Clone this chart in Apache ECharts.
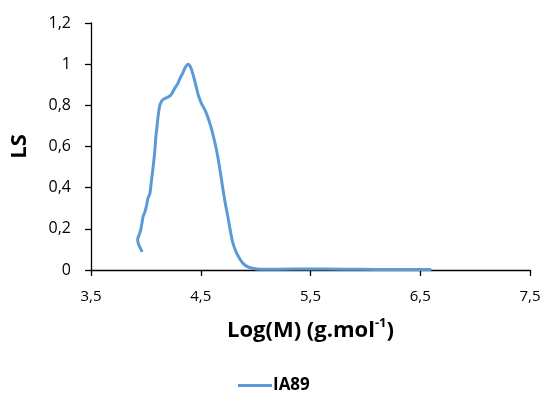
<!DOCTYPE html>
<html>
<head>
<meta charset="utf-8">
<script src="https://cdn.jsdelivr.net/npm/echarts@6/dist/echarts.min.js"></script>
<style>html,body{margin:0;padding:0;background:#fff}#c{width:544px;height:394px}</style>
</head>
<body>
<div id="c"></div>
<script>
const seriesName = 'IA89';
const logM = [3.966,3.955,3.942,3.93,3.925,3.935,3.945,3.955,3.965,3.975,3.99,4.005,4.02,4.036,4.05,4.066,4.08,4.09,4.10,4.11,4.12,4.13,4.15,4.17,4.20,4.22,4.24,4.26,4.29,4.31,4.335,4.355,4.37,4.385,4.40,4.415,4.44,4.46,4.48,4.506,4.54,4.566,4.59,4.61,4.635,4.657,4.68,4.70,4.725,4.75,4.77,4.79,4.82,4.855,4.89,4.93,4.98,5.04,5.2,5.5,5.8,6.1,6.4,6.6];
const ls   = [0.088,0.10,0.115,0.13,0.15,0.165,0.18,0.20,0.23,0.26,0.28,0.31,0.35,0.37,0.43,0.50,0.57,0.64,0.69,0.74,0.78,0.805,0.825,0.832,0.84,0.846,0.86,0.88,0.905,0.93,0.955,0.98,0.993,0.999,0.993,0.975,0.93,0.887,0.845,0.81,0.775,0.74,0.70,0.66,0.605,0.545,0.47,0.40,0.32,0.25,0.19,0.137,0.09,0.055,0.03,0.015,0.007,0.004,0.004,0.005,0.004,0.003,0.003,0.003];
const xTicks = [3.5, 7.5, 1];
const yTicks = [0, 1.2, 0.2];

const fmt = v => String(Math.round(v * 10) / 10).replace('.', ',');
const chart = echarts.init(document.getElementById('c'));
chart.setOption({
  animation: false,
  backgroundColor: '#fff',
  textStyle: { fontFamily: 'Open Sans' },
  grid: { left: 91, right: 14, top: 23, bottom: 124 },
  legend: {
    data: [seriesName], top: 372, left: 233,
    itemWidth: 34, itemHeight: 3, itemGap: 6,
    icon: 'rect',
    textStyle: { fontSize: 17, fontWeight: 'bold', color: '#000', fontFamily: 'Open Sans', padding: [0,0,0,-4] }
  },
  xAxis: {
    type: 'value', min: xTicks[0], max: xTicks[1], interval: xTicks[2],
    splitLine: { show: false },
    axisLine: { show: true, onZero: false, lineStyle: { color: '#000', width: 1.3 } },
    axisTick: { show: true, length: 6, lineStyle: { color: '#000', width: 1.3 } },
    axisLabel: { color: '#000', fontSize: 15, margin: 19, formatter: fmt },
    name: 'Log(M) (g.mol{sup|-1})', nameLocation: 'middle', nameGap: 47,
    nameTextStyle: {
      fontSize: 22, fontWeight: 'bold', color: '#000',
      rich: { sup: { fontSize: 13, fontWeight: 'bold', color: '#000', verticalAlign: 'top', lineHeight: 28 } }
    }
  },
  yAxis: {
    type: 'value', min: yTicks[0], max: yTicks[1], interval: yTicks[2],
    splitLine: { show: false },
    axisLine: { show: true, lineStyle: { color: '#000', width: 1.3 } },
    axisTick: { show: true, length: 6, lineStyle: { color: '#000', width: 1.3 } },
    axisLabel: { color: '#000', fontSize: 16, margin: 20, formatter: fmt },
    name: 'LS', nameLocation: 'middle', nameGap: 60,
    nameTextStyle: { fontSize: 22, fontWeight: 'bold', color: '#000' }
  },
  series: [{
    name: seriesName, type: 'line', smooth: 0.3, symbol: 'none',
    data: logM.map((x, i) => [x, ls[i]]),
    lineStyle: { color: '#5B9BD5', width: 3 },
    itemStyle: { color: '#5B9BD5' }
  }]
});
</script>
</body>
</html>
